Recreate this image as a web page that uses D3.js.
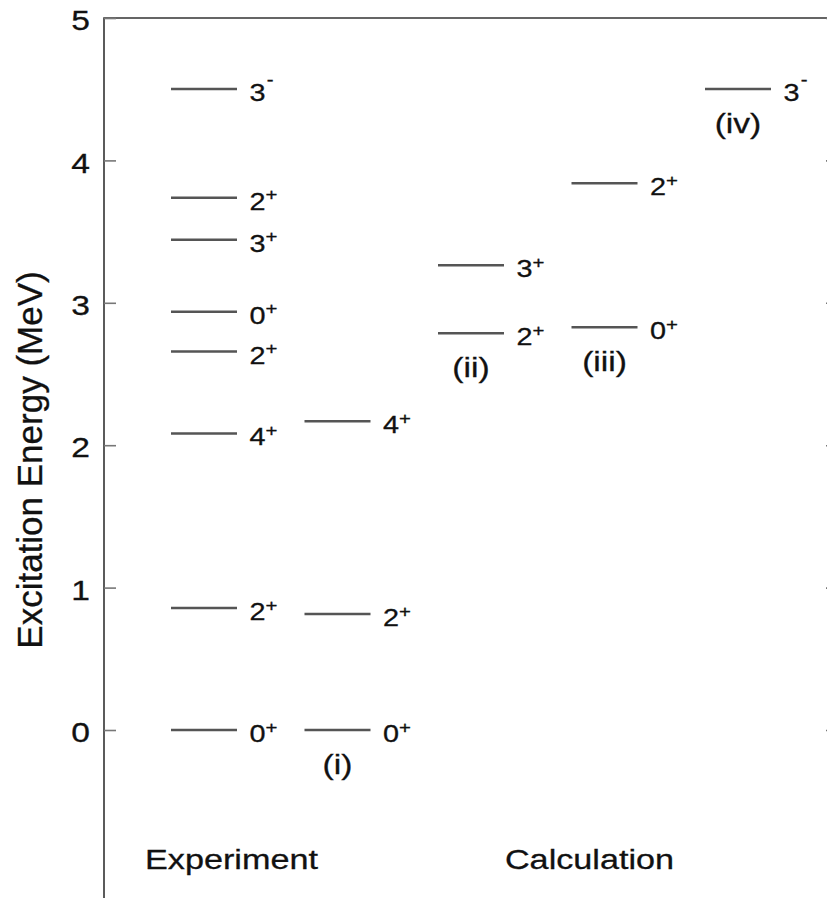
<!DOCTYPE html>
<html>
<head>
<meta charset="utf-8">
<script src="https://cdn.jsdelivr.net/npm/d3@7"></script>
<style>
  html, body { margin: 0; padding: 0; background: #fff; }
  svg { display: block; font-family: "Liberation Sans", Arial, Helvetica, sans-serif; }
  svg text { stroke: #111; stroke-width: 0.3px; paint-order: stroke; }
</style>
</head>
<body>
<svg id="chart" width="827" height="898"></svg>
<script>
// Energy levels (MeV) with spin and parity, per column
const expEnergy = [0, 0.856, 2.083, 2.658, 2.938, 3.443, 3.738, 4.502];
const expSpin   = ["0", "2", "4", "2", "0", "3", "2", "3"];
const expParity = ["+", "+", "+", "+", "+", "+", "+", "-"];

const calcIEnergy = [0, 0.814, 2.168];
const calcISpin   = ["0", "2", "4"];
const calcIParity = ["+", "+", "+"];

const calcIIEnergy = [2.786, 3.263];
const calcIISpin   = ["2", "3"];
const calcIIParity = ["+", "+"];

const calcIIIEnergy = [2.828, 3.839];
const calcIIISpin   = ["0", "2"];
const calcIIIParity = ["+", "+"];

const calcIVEnergy = [4.502];
const calcIVSpin   = ["3"];
const calcIVParity = ["-"];

const columnTags = ["", "(i)", "(ii)", "(iii)", "(iv)"];
const groupTitles = ["Experiment", "Calculation"];
const yTicks = [0, 1, 2, 3, 4, 5];

const columns = [
  { energy: expEnergy, spin: expSpin, parity: expParity },
  { energy: calcIEnergy, spin: calcISpin, parity: calcIParity },
  { energy: calcIIEnergy, spin: calcIISpin, parity: calcIIParity },
  { energy: calcIIIEnergy, spin: calcIIISpin, parity: calcIIIParity },
  { energy: calcIVEnergy, spin: calcIVSpin, parity: calcIVParity }
].map((c, i) => ({
  index: i,
  tag: columnTags[i],
  levels: c.energy.map((e, k) => ({ e, spin: c.spin[k], parity: c.parity[k], index: i }))
}));

const svg = d3.select("#chart");
const frameLeft = 104, frameRight = 838, frameTop = 18, frameBottom = 898;
const wide = 1.2;           // horizontal widening of the lettering
const ink = "#111";

const y = d3.scaleLinear().domain([0, 5]).range([730, frameTop]);
const x = d3.scaleLinear().domain([0, 4]).range([171, 705]);
const levelWidth = 66;

// Frame: left axis, top edge and right axis
svg.append("path")
  .attr("d", `M${frameLeft},${frameBottom + 2}V${frameTop}H${frameRight}V${frameBottom + 2}`)
  .attr("fill", "none")
  .attr("stroke", "#333")
  .attr("stroke-width", 1.6);

const axisL = d3.axisLeft(y).tickValues(yTicks).tickSize(-12).tickFormat(d3.format("d"));
const gL = svg.append("g").attr("transform", `translate(${frameLeft},0)`).call(axisL);
gL.select(".domain").remove();
gL.selectAll(".tick line").attr("stroke", "#777").attr("stroke-width", 1.6);
gL.selectAll(".tick text")
  .attr("x", 0)
  .attr("dy", "0.42em")
  .attr("transform", `translate(-14,0) scale(${wide},1)`)
  .attr("text-anchor", "end")
  .attr("font-size", 28)
  .attr("fill", ink)
  .attr("font-family", "'Liberation Sans', Arial, sans-serif");

const axisR = d3.axisRight(y).tickValues(yTicks).tickSize(-12).tickFormat("");
const gR = svg.append("g").attr("transform", `translate(${frameRight},0)`).call(axisR);
gR.select(".domain").remove();
gR.selectAll(".tick line").attr("stroke", "#777").attr("stroke-width", 1.6);

// Axis title
svg.append("text")
  .attr("transform", "translate(42,460) rotate(-90)")
  .attr("text-anchor", "middle")
  .attr("font-size", 35)
  .attr("fill", ink)
  .text("Excitation Energy (MeV)");

// Level lines and spin-parity labels
const col = svg.selectAll("g.col")
  .data(columns)
  .join("g")
  .attr("class", "col");

col.selectAll("line.level")
  .data(d => d.levels)
  .join("line")
  .attr("class", "level")
  .attr("x1", d => x(d.index))
  .attr("x2", d => x(d.index) + levelWidth)
  .attr("y1", d => y(d.e))
  .attr("y2", d => y(d.e))
  .attr("stroke", "#555")
  .attr("stroke-width", 2.5);

const lab = col.selectAll("text.jp")
  .data(d => d.levels)
  .join("text")
  .attr("class", "jp")
  .attr("transform", d => `translate(${x(d.index) + levelWidth + 12.5},${y(d.e) + 12}) scale(${wide},1)`)
  .attr("font-size", 24)
  .attr("fill", ink);
lab.append("tspan").text(d => d.spin);
lab.append("tspan")
  .attr("font-size", 17)
  .attr("dx", d => d.parity === "-" ? 1 : 0)
  .attr("dy", d => d.parity === "-" ? -16 : -9.5)
  .text(d => d.parity);

// Calculation tags under the lowest level of each column
col.filter(d => d.tag)
  .append("text")
  .attr("transform", d => `translate(${x(d.index) + levelWidth / 2},${y(d3.min(d.levels, l => l.e)) + 44}) scale(${wide},1)`)
  .attr("text-anchor", "middle")
  .attr("font-size", 28)
  .attr("fill", ink)
  .text(d => d.tag);

// Group titles
const groupCenters = [231.5, 589.5];
svg.selectAll("text.group")
  .data(groupTitles)
  .join("text")
  .attr("class", "group")
  .attr("transform", (d, i) => `translate(${groupCenters[i]},869) scale(${wide},1)`)
  .attr("text-anchor", "middle")
  .attr("font-size", 28.5)
  .attr("fill", ink)
  .text(d => d);
</script>
</body>
</html>
